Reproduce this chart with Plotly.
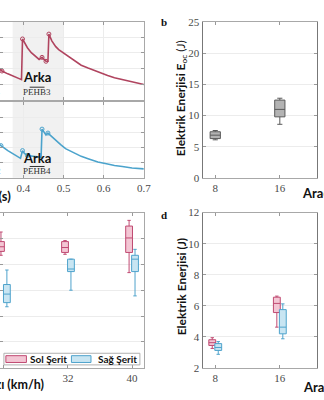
import plotly.graph_objects as go

W, H = 324, 400

# ---- panel a: voltage response of two harvesters over time (s) ----
top_t = [0.3415, 0.3464, 0.361, 0.378, 0.3951, 0.3976, 0.4024, 0.4098, 0.4195,
         0.4293, 0.439, 0.4463, 0.4561, 0.461, 0.4634, 0.4707, 0.4805, 0.4878,
         0.5049, 0.5244, 0.5439, 0.561, 0.5854, 0.6098, 0.6268, 0.6463, 0.6659,
         0.6829, 0.7]
top_v = [1.98, 1.85, 1.67, 1.48, 1.30, 3.89, 3.64, 3.33, 3.02,
         2.80, 2.59, 2.72, 2.47, 2.47, 4.20, 3.77, 3.40, 3.21,
         2.90, 2.53, 2.22, 2.04, 1.79, 1.57, 1.42, 1.30, 1.17,
         1.08, 0.99]
top_marked = [1, 5, 11, 12, 14]

bot_t = [0.3415, 0.3439, 0.361, 0.378, 0.3927, 0.3976, 0.4024, 0.4098, 0.422,
         0.4341, 0.4439, 0.4463, 0.4512, 0.4561, 0.461, 0.4683, 0.4805, 0.4927,
         0.5049, 0.5244, 0.5439, 0.561, 0.5854, 0.6098, 0.6268, 0.6463, 0.6707,
         0.7]
bot_v = [2.18, 2.12, 1.79, 1.54, 1.28, 1.79, 1.60, 1.47, 1.41,
         1.38, 1.35, 3.21, 3.01, 2.82, 2.95, 2.76, 2.44, 2.18,
         1.92, 1.67, 1.41, 1.25, 1.03, 0.90, 0.80, 0.74, 0.64,
         0.58]
bot_marked = [1, 5, 7, 11, 14]

rear_window = [0.373, 0.5]

# ---- panel b: open-circuit energy per vehicle speed ----
b_speed = [8, 16]
b_low = [6.1, 8.6]
b_q1 = [6.3, 9.8]
b_med = [6.85, 11.0]
b_q3 = [7.4, 12.5]
b_high = [7.6, 12.8]

# ---- panel c: energy per speed, left and right lane ----
c_speed = [24, 32, 40]
c_left = dict(low=[21.75, 21.94, 18.4], q1=[22.5, 22.3, 22.3],
              med=[23.4, 23.25, 25.1], q3=[24.4, 24.4, 27.4],
              high=[26.25, 24.6, 28.5])
c_right = dict(low=[11.8, 15.0, 13.9], q1=[12.6, 18.6, 18.6],
               med=[14.25, 19.1, 21.0], q3=[16.1, 21.0, 21.75],
               high=[18.9, 21.0, 22.9])

# ---- panel d: energy per speed, left and right lane ----
d_speed = [8, 16]
d_left = dict(low=[3.25, 4.62], q1=[3.44, 5.56], med=[3.62, 6.15],
              q3=[3.81, 6.55], high=[3.94, 6.62])
d_right = dict(low=[2.87, 3.87], q1=[3.12, 4.19], med=[3.31, 4.62],
               q3=[3.56, 5.75], high=[3.69, 6.12])

lane_names = ["Sol Şerit", "Sağ Şerit"]
PINK_LINE, PINK_FILL = "#c04a72", "#f3c6d4"
BLUE_LINE, BLUE_FILL = "#4fa3cc", "#c8e5f2"
RED_CURVE, BLUE_CURVE = "#b0445f", "#4ba3cc"

SERIF = "Liberation Serif, Times New Roman, serif"
SANS = "Lato, Open Sans, sans-serif"


def px(x):
    return x / W


def py(y):
    return 1 - y / H


fig = go.Figure()

# curves
fig.add_trace(go.Scatter(x=top_t, y=top_v, mode="lines", line=dict(color=RED_CURVE, width=1.6),
                         xaxis="x", yaxis="y", showlegend=False))
fig.add_trace(go.Scatter(x=[top_t[i] for i in top_marked], y=[top_v[i] for i in top_marked],
                         mode="markers", marker=dict(symbol="circle-open", size=4, color=RED_CURVE),
                         xaxis="x", yaxis="y", showlegend=False))
fig.add_trace(go.Scatter(x=bot_t, y=bot_v, mode="lines", line=dict(color=BLUE_CURVE, width=1.6),
                         xaxis="x2", yaxis="y2", showlegend=False))
fig.add_trace(go.Scatter(x=[bot_t[i] for i in bot_marked], y=[bot_v[i] for i in bot_marked],
                         mode="markers", marker=dict(symbol="circle-open", size=4, color=BLUE_CURVE),
                         xaxis="x2", yaxis="y2", showlegend=False))

# panel b boxes
fig.add_trace(go.Box(x=b_speed, lowerfence=b_low, q1=b_q1, median=b_med, q3=b_q3,
                     upperfence=b_high, width=1.27, whiskerwidth=0.5,
                     fillcolor="#b3b3b3", line=dict(color="#5a5a5a", width=1),
                     boxpoints=False, xaxis="x3", yaxis="y3", showlegend=False))

LANE_OFFSET = 0.37
LANE_WIDTH = 0.85


def lane_boxes(speeds, stats, sign, fill, line, xa, ya):
    fig.add_trace(go.Box(x=[s + sign * LANE_OFFSET for s in speeds],
                         lowerfence=stats["low"], q1=stats["q1"], median=stats["med"],
                         q3=stats["q3"], upperfence=stats["high"], width=LANE_WIDTH,
                         whiskerwidth=0.5, fillcolor=fill, line=dict(color=line, width=1),
                         boxpoints=False, xaxis=xa, yaxis=ya, showlegend=False))


lane_boxes(c_speed, c_left, -1, PINK_FILL, PINK_LINE, "x4", "y4")
lane_boxes(c_speed, c_right, 1, BLUE_FILL, BLUE_LINE, "x4", "y4")
lane_boxes(d_speed, d_left, -1, PINK_FILL, PINK_LINE, "x5", "y5")
lane_boxes(d_speed, d_right, 1, BLUE_FILL, BLUE_LINE, "x5", "y5")

frame = dict(showline=True, mirror="allticks", linecolor="#a8a8a8", linewidth=1,
             ticks="inside", ticklen=3, tickcolor="#999999",
             gridcolor="#ececec", gridwidth=1, zeroline=False,
             tickfont=dict(family=SERIF, size=11, color="#4a4a4a"))

fig.update_layout(
    width=W, height=H, margin=dict(l=0, r=0, t=0, b=0),
    paper_bgcolor="white", plot_bgcolor="white", boxmode="overlay",
    xaxis=dict(frame, domain=[0, px(147)], range=[0.3415, 0.7], dtick=0.1,
               showticklabels=False, anchor="y"),
    yaxis=dict(frame, domain=[py(97), py(16)], range=[0, 5], dtick=1,
               showticklabels=False, anchor="x"),
    xaxis2=dict(frame, domain=[0, px(147)], range=[0.3415, 0.7], tickvals=[0.4, 0.5, 0.6, 0.7],
                anchor="y2"),
    yaxis2=dict(frame, domain=[py(177), py(99)], range=[0, 5], dtick=1,
                showticklabels=False, anchor="x2"),
    xaxis3=dict(frame, domain=[px(207), 1], range=[6.424, 20.606], tickvals=[8, 16, 24],
                showgrid=False, anchor="y3"),
    yaxis3=dict(frame, domain=[py(177), py(17)], range=[0, 25], dtick=5, anchor="x3",
                linecolor="#777777"),
    xaxis4=dict(frame, domain=[0, px(147)], range=[23.51, 41.47], tickvals=c_speed,
                showgrid=False, anchor="y4"),
    yaxis4=dict(frame, domain=[py(373), py(213)], range=[0, 30], dtick=5,
                showticklabels=False, anchor="x4"),
    xaxis5=dict(frame, domain=[px(207), 1], range=[6.424, 20.606], tickvals=[8, 16, 24],
                showgrid=False, anchor="y5"),
    yaxis5=dict(frame, domain=[py(373), py(213)], range=[2, 12], dtick=2, anchor="x5",
                linecolor="#777777"),
)

# rear-axle window shading
for xa, ya in (("x", "y"), ("x2", "y2")):
    fig.add_shape(type="rect", xref=xa, yref=f"{ya} domain", x0=rear_window[0], x1=rear_window[1],
                  y0=0, y1=1, fillcolor="#e6e6e6", opacity=0.55, line_width=0, layer="below")

ann = []


def label(text, x, y, size, family, color="#111111", xanchor="center", yanchor="middle",
          xref="paper", yref="paper", angle=0):
    ann.append(dict(text=text, x=x, y=y, xref=xref, yref=yref, showarrow=False,
                    xanchor=xanchor, yanchor=yanchor, textangle=angle,
                    font=dict(family=family, size=size, color=color)))


# axle labels in panel a
label("<b>Arka</b>", 0.434, 1.50, 13, SANS, xref="x", yref="y")
label("PEHB3", 0.434, 0.50, 9, SERIF, color="#333333", xref="x", yref="y")
label("<b>Arka</b>", 0.434, 1.33, 13, SANS, xref="x2", yref="y2")
label("PEHB4", 0.434, 0.42, 9, SERIF, color="#333333", xref="x2", yref="y2")
label("PEHB1", px(3), py(88), 9, SERIF, color="#333333", xanchor="right")
label("PEHB2", px(3), py(170), 9, SERIF, color="#333333", xanchor="right")
for xa, ya, yv in (("x", "y", 0.82), ("x2", "y2", 0.74)):
    fig.add_shape(type="line", xref=xa, yref=ya, x0=0.4155, x1=0.4525, y0=yv, y1=yv,
                  line=dict(color="#333333", width=1))

# axis titles
label("<b>Zaman (s)</b>", px(13), py(196), 13, SANS, xanchor="right")
label("<b>Araç Hızı (km/h)</b>", px(47), py(390), 12.5, SANS, xanchor="right")
label("<b>Araç Hızı (km/h)</b>", px(307), py(193), 13, SANS, xanchor="left")
label("<b>Araç Hızı (km/h)</b>", px(308), py(393), 13, SANS, xanchor="left")
label("<b>Elektrik Enerjisi E</b><sub>oc</sub> (J)", px(185), py(95), 12, SANS, angle=-90)
label("<b>Elektrik Enerjisi (J)</b>", px(185), py(289), 12, SANS, angle=-90)

# panel letters
label("<b>b</b>", px(168), py(16), 11, SERIF)
label("<b>d</b>", px(168), py(215), 11, SERIF)

# lane legend in panel c
fig.add_shape(type="rect", xref="paper", yref="paper", x0=px(4), x1=px(143), y0=py(370), y1=py(358),
              line=dict(color="#b0b0b0", width=1), fillcolor="white")
for (x0, x1), fill, line, name, tx in (((6, 27), PINK_FILL, PINK_LINE, lane_names[0], 29),
                                        ((73, 93), BLUE_FILL, BLUE_LINE, lane_names[1], 98)):
    fig.add_shape(type="rect", xref="paper", yref="paper", x0=px(x0), x1=px(x1),
                  y0=py(367.5), y1=py(360.5), line=dict(color=line, width=1), fillcolor=fill)
    label(f"<b>{name}</b>", px(tx), py(364), 10, SANS, xanchor="left")

fig.update_layout(annotations=ann)
fig.write_html("out.html")
